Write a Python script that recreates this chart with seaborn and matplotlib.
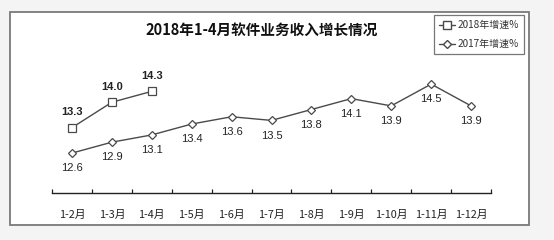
import matplotlib
matplotlib.use("Agg")
import matplotlib.pyplot as plt
from matplotlib.patches import Rectangle
from matplotlib.lines import Line2D
import seaborn as sns
import pandas as pd

categories = ["1-2月", "1-3月", "1-4月", "1-5月", "1-6月", "1-7月",
              "1-8月", "1-9月", "1-10月", "1-11月", "1-12月"]
growth_2018 = [13.3, 14.0, 14.3]
growth_2017 = [12.6, 12.9, 13.1, 13.4, 13.6, 13.5, 13.8, 14.1, 13.9, 14.5, 13.9]
series_names = ["2018年增速%", "2017年增速%"]
title = "2018年1-4月软件业务收入增长情况"

sns.set_theme(style="white")
plt.rcParams['font.family'] = ['Noto Sans CJK SC', 'DejaVu Sans']

W, H = 554, 240
fig = plt.figure(figsize=(W / 100, H / 100), dpi=100)
fig.patch.set_facecolor("#f4f4f4")

# chart box
box = Rectangle((10 / W, 1 - 225 / H), (529 - 10) / W, (225 - 12) / H,
                transform=fig.transFigure, facecolor="white",
                edgecolor="#7a7a7a", linewidth=1.3, zorder=-5)
fig.patches.append(box)

ax = fig.add_axes([52 / W, 1 - 193 / H, (491 - 52) / W, (193 - 47.8) / H])
ax.set_zorder(5)
ax.set_facecolor("none")
ax.patch.set_alpha(0)

df18 = pd.DataFrame({"x": list(range(len(growth_2018))), "v": growth_2018})
df17 = pd.DataFrame({"x": list(range(len(growth_2017))), "v": growth_2017})
lc = "#4a4a4a"
sns.lineplot(data=df18, x="x", y="v", ax=ax, color=lc, linewidth=1.0,
             marker="s", markersize=5.6, markerfacecolor="white",
             markeredgecolor=lc, markeredgewidth=0.9)
sns.lineplot(data=df17, x="x", y="v", ax=ax, color=lc, linewidth=1.0,
             marker="D", markersize=4.3, markerfacecolor="white",
             markeredgecolor=lc, markeredgewidth=0.9)

for i, v in enumerate(growth_2018):
    ax.annotate(f"{v:.1f}", (i, v), xytext=(0, 11), textcoords="offset points",
                ha="center", va="center", fontsize=8, fontweight="bold",
                family="Liberation Sans", color="#222222")
for i, v in enumerate(growth_2017):
    ax.annotate(f"{v:.1f}", (i, v), xytext=(0, -11), textcoords="offset points",
                ha="center", va="center", fontsize=8,
                family="Liberation Sans", color="#222222")

ax.set_xlim(-0.5, len(categories) - 0.5)
ax.set_ylim(11.5, 15.5)
ax.set_xlabel("")
ax.set_ylabel("")
ax.set_yticks([])
ax.set_xticks(range(len(categories)))
ax.set_xticklabels(categories, fontsize=7.8, color="#222222")
ax.set_xticks([i - 0.5 for i in range(len(categories) + 1)], minor=True)
ax.tick_params(axis="x", which="major", length=0, pad=12)
ax.tick_params(axis="x", which="minor", length=3, width=0.9, direction="in",
               color="#222222", bottom=True)
for s in ["top", "left", "right"]:
    ax.spines[s].set_visible(False)
ax.spines["bottom"].set_color("#222222")
ax.spines["bottom"].set_linewidth(1.0)

fig.text(262 / W, 1 - 30 / H, title, ha="center", va="center",
         fontsize=10.5, fontweight="bold", color="#111111", zorder=6)

handles = [
    Line2D([], [], color=lc, linewidth=1.0, marker="s", markersize=5.5,
           markerfacecolor="white", markeredgecolor=lc),
    Line2D([], [], color=lc, linewidth=1.0, marker="D", markersize=4.3,
           markerfacecolor="white", markeredgecolor=lc),
]
leg = fig.legend(handles, series_names, loc="upper right",
                 bbox_to_anchor=(524 / W, 1 - 15 / H), fontsize=7.2,
                 frameon=True, fancybox=False, handlelength=1.6,
                 handletextpad=0.3, borderpad=0.5, labelspacing=0.9,
                 borderaxespad=0)
leg.set_zorder(6)
leg.get_frame().set_edgecolor("#555555")
leg.get_frame().set_linewidth(0.9)
for t in leg.get_texts():
    t.set_color("#333333")

fig.savefig("out.png", dpi=100, facecolor=fig.get_facecolor())
